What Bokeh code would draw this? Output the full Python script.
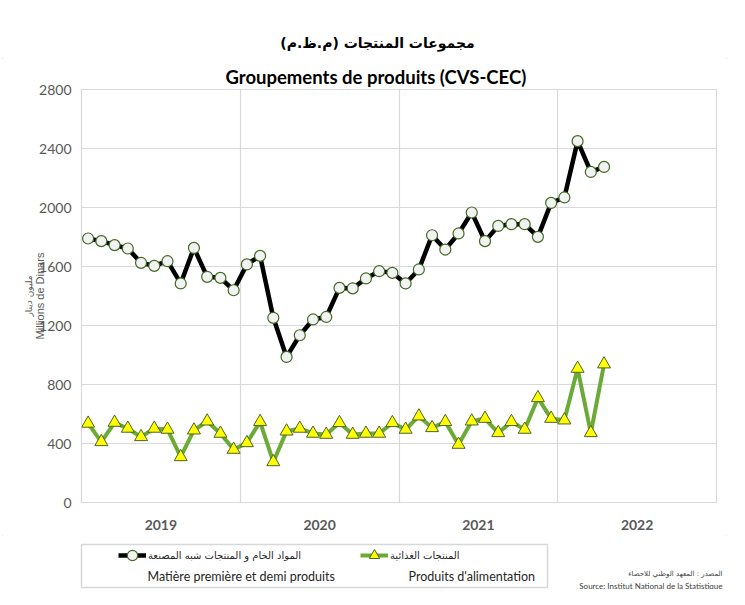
import numpy as np
from bokeh.plotting import figure
from bokeh.layouts import column
from bokeh.models import (Range1d, FixedTicker, Label, Legend, LegendItem,
                          BoxAnnotation, ColumnDataSource, LinearAxis, Title)
from bokeh.embed import file_html
from bokeh.resources import INLINE

# ---------------- data ----------------
years = ["2019", "2020", "2021", "2022"]
months_per_year = 12
raw_semi = [1790, 1772, 1745, 1722, 1625, 1604, 1636, 1485, 1726, 1530, 1523, 1439,
            1614, 1672, 1252, 987, 1134, 1241, 1258, 1455, 1452, 1519, 1568, 1557,
            1485, 1580, 1812, 1715, 1824, 1966, 1772, 1875, 1887, 1887, 1801, 2031,
            2068, 2450, 2241, 2275]
food = [536, 411, 542, 502, 445, 502, 495, 309, 490, 551, 468, 359,
        404, 547, 275, 483, 502, 468, 461, 540, 461, 468, 468, 540,
        495, 585, 506, 547, 393, 551, 569, 472, 547, 495, 709, 569,
        558, 908, 472, 938]
y_ticks = [0, 400, 800, 1200, 1600, 2000, 2400, 2800]

title_ar = "\u200fمجموعات المنتجات (م.ظ.م)\u200f"
title_fr = "Groupements de produits (CVS-CEC)"
ylabel_ar = "مليون دينار"
ylabel_fr = "Millions de Dinars"
name_semi_ar = "المواد الخام و المنتجات شبه المصنعة"
name_semi_fr = "Matière première et demi produits"
name_food_ar = "المنتجات الغذائية"
name_food_fr = "Produits d'alimentation"
source_ar = "المصدر : المعهد الوطني للاحصاء"
source_fr = "Source: Institut National de la Statistique"

# styles
SEMI_LINE = dict(line_color="#000000", line_width=4.5)
SEMI_MARK = dict(marker="circle", size=11, fill_color="#f2f2f2",
                 line_color="#3f6a22", line_width=1.2)
FOOD_LINE = dict(line_color="#6aaa35", line_width=4)
FOOD_MARK = dict(marker="triangle", size=13, fill_color="#ffff00",
                 line_color="#4f6228", line_width=1)

W = 729
HEAD_H = 58
MAIN_H = 477
FOOT_H = 54
FRAME_L, FRAME_R, FRAME_T, FRAME_B = 81, 716, 89, 502


def blank_fig(h):
    f = figure(width=W, height=h, output_backend="svg", toolbar_location=None,
               x_range=Range1d(0, W), y_range=Range1d(h, 0),
               x_axis_type=None, y_axis_type=None, min_border=0,
               title=None, frame_align=False)
    f.outline_line_color = None
    f.background_fill_color = "white"
    f.border_fill_color = "white"
    return f


def lab(fig, text, x, y, font="Lato", size="13px", color="#262626",
        align="left", style="normal"):
    fig.add_layout(Label(x=x, y=y, text=text, text_font=font,
                         text_font_size=size, text_color=color,
                         text_align=align, text_baseline="middle",
                         text_font_style=style))


# ---------------- header ----------------
head = blank_fig(HEAD_H)
lab(head, title_ar, 377, 42, font="DejaVu Sans", size="14px", color="#000000",
    align="center", style="bold")

# ---------------- main chart ----------------
n_total = len(years) * months_per_year
x_idx = np.arange(len(raw_semi)) + 0.5
src = ColumnDataSource(dict(x=x_idx, semi=raw_semi, food=food))

p = figure(width=W, height=MAIN_H, output_backend="svg", toolbar_location=None,
           x_range=Range1d(0, n_total), y_range=Range1d(y_ticks[0], y_ticks[-1]),
           min_border_left=FRAME_L, min_border_right=W - FRAME_R,
           min_border_top=FRAME_T - HEAD_H,
           min_border_bottom=HEAD_H + MAIN_H - FRAME_B,
           title=None, frame_align=False)
p.background_fill_color = "white"
p.border_fill_color = "white"
p.outline_line_color = "#d9d9d9"
p.outline_line_width = 1.2

p.add_layout(Title(text=title_fr, align="left", offset=225 - FRAME_L, standoff=3,
                   text_font="Lato", text_font_size="18.5px",
                   text_font_style="bold", text_color="#000000"), "above")

p.xgrid.ticker = FixedTicker(ticks=[months_per_year * k for k in range(1, len(years))])
p.ygrid.ticker = FixedTicker(ticks=y_ticks)
p.xgrid.grid_line_color = "#d9d9d9"
p.ygrid.grid_line_color = "#d9d9d9"
p.xgrid.grid_line_width = 1.2
p.ygrid.grid_line_width = 1.2

year_centers = [months_per_year * k + months_per_year / 2 for k in range(len(years))]
p.xaxis.ticker = FixedTicker(ticks=year_centers)
p.xaxis.major_label_overrides = {c: y for c, y in zip(year_centers, years)}
p.yaxis.ticker = FixedTicker(ticks=y_ticks)
for ax in (p.xaxis[0], p.yaxis[0]):
    ax.axis_line_color = None
    ax.major_tick_line_color = None
    ax.minor_tick_line_color = None
    ax.major_tick_out = 0
    ax.major_label_text_color = "#595959"
    ax.major_label_text_font = "Lato"
    ax.major_label_text_font_size = "14px"
p.xaxis.major_label_text_font_style = "bold"
p.xaxis.major_label_standoff = 17
p.yaxis.major_label_standoff = 10
p.yaxis.axis_label = ylabel_fr
p.yaxis.axis_label_text_font = "Liberation Sans"
p.yaxis.axis_label_text_font_size = "11px"
p.yaxis.axis_label_text_font_style = "normal"
p.yaxis.axis_label_text_color = "#595959"
p.yaxis.axis_label_standoff = -10

ax_ar = LinearAxis(ticker=FixedTicker(ticks=[]), axis_label=ylabel_ar,
                   axis_line_color=None, major_tick_line_color=None,
                   minor_tick_line_color=None, major_tick_out=0, minor_tick_out=0,
                   major_label_text_font_size="0px", major_label_standoff=0,
                   axis_label_standoff=-2, axis_label_text_font="DejaVu Sans",
                   axis_label_text_font_size="9px",
                   axis_label_text_font_style="normal",
                   axis_label_text_color="#595959")
p.add_layout(ax_ar, "left")

p.line("x", "semi", source=src, **SEMI_LINE)
p.scatter("x", "semi", source=src, **SEMI_MARK)
p.line("x", "food", source=src, **FOOD_LINE)
p.scatter("x", "food", source=src, **FOOD_MARK)

# ---------------- footer (legend + source) ----------------
F0 = HEAD_H + MAIN_H          # page y of footer top
foot = blank_fig(FOOT_H)
foot.add_layout(BoxAnnotation(left=81, right=547, top=544 - F0, bottom=587 - F0,
                              fill_alpha=0, line_color="#7f7f7f", line_width=1.5))
proxy = ColumnDataSource(dict(x=[float("nan")], y=[float("nan")]))
pl1 = foot.line("x", "y", source=proxy, **SEMI_LINE)
ps1 = foot.scatter("x", "y", source=proxy, **SEMI_MARK)
pl2 = foot.line("x", "y", source=proxy, **FOOD_LINE)
ps2 = foot.scatter("x", "y", source=proxy, **FOOD_MARK)

GH = 26
row1 = 555 - F0


def make_legend(item, x):
    lg = Legend(items=[item], location=(x, FOOT_H - row1 - GH / 2),
                orientation="horizontal",
                border_line_color=None, background_fill_alpha=0,
                padding=0, margin=0, glyph_width=28, glyph_height=GH,
                label_standoff=2, label_height=GH,
                label_text_font="DejaVu Sans", label_text_font_size="10px",
                label_text_color="#262626")
    foot.add_layout(lg)


make_legend(LegendItem(label=name_semi_ar, renderers=[pl1, ps1]), 118)
make_legend(LegendItem(label=name_food_ar, renderers=[pl2, ps2]), 360)

lab(foot, name_semi_fr, 147, 576 - F0, size="12.5px")
lab(foot, name_food_fr, 408, 576 - F0, size="12.5px")
lab(foot, source_ar, 722, 573 - F0, font="DejaVu Sans", size="7px", color="#404040",
    align="right")
lab(foot, source_fr, 722, 585 - F0, font="Lato", size="8px", color="#404040",
    align="right")

layout = column(head, p, foot, spacing=0,
                styles={"outline": "1.5px solid #d9d9d9", "outline-offset": "-3px"})
open("out.html", "w").write(file_html(layout, INLINE))
